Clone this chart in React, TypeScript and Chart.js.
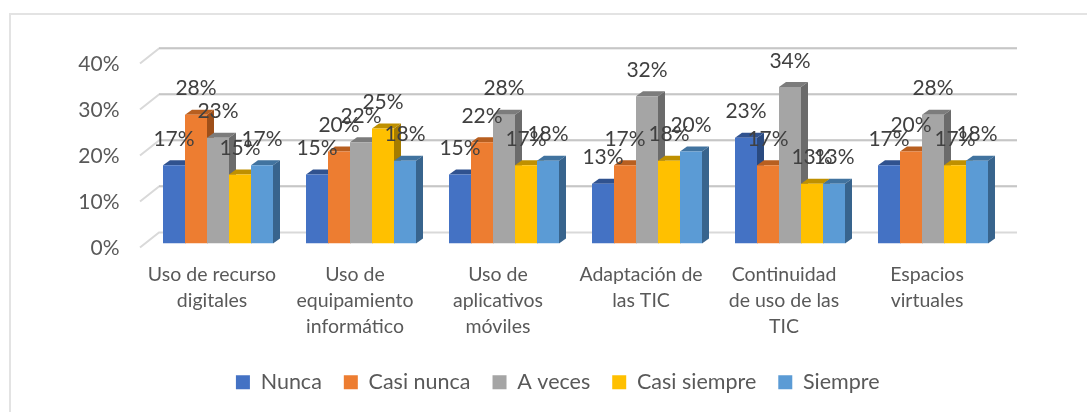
import React, { useEffect, useRef } from "react";
import { Chart, registerables } from "chart.js";

Chart.register(...registerables);

const categories = [
  ["Uso de recurso", "digitales"],
  ["Uso de", "equipamiento", "informático"],
  ["Uso de", "aplicativos", "móviles"],
  ["Adaptación de", "las TIC"],
  ["Continuidad", "de uso de las", "TIC"],
  ["Espacios", "virtuales"],
];
const nunca = [17, 15, 15, 13, 23, 17];
const casiNunca = [28, 20, 22, 17, 17, 20];
const aVeces = [23, 22, 28, 32, 34, 28];
const casiSiempre = [15, 25, 17, 18, 13, 17];
const siempre = [17, 18, 18, 20, 13, 18];
const seriesNames = ["Nunca", "Casi nunca", "A veces", "Casi siempre", "Siempre"];
const seriesColors = ["#4472C4", "#ED7D31", "#A5A5A5", "#FFC000", "#5B9BD5"];
const topColors = ["#30528F", "#B85F20", "#7C7C7C", "#BF9000", "#41739F"];
const sideColors = ["#2A4A80", "#9E4F19", "#6B6B6B", "#A57C00", "#38648D"];
const FONT = "Lato";
const DX = 7;
const DY = 5;

const depthPlugin = {
  id: "depth",
  afterLayout(chart: any) {
    const legend = chart.legend;
    legend.left += 55.5;
    legend.right += 55.5;
    legend.top -= 9;
    legend.bottom -= 9;
  },
  beforeDraw(chart: any) {
    const a = chart.chartArea;
    chart.scales.y.getLabelItems(a).forEach((item: any) => {
      item.options.translation[1] += 4.5;
    });
    chart.scales.x.getLabelItems(a).forEach((item: any) => {
      item.options.translation[0] -= 6;
    });
  },
  beforeDatasetsDraw(chart: any) {
    const { ctx, scales } = chart;
    const y = scales.y;
    const a = chart.chartArea;
    ctx.save();
    for (const v of y.ticks.map((t: any) => t.value)) {
      const py = y.getPixelForValue(v);
      ctx.strokeStyle = "#D9D9D9";
      ctx.lineWidth = 2;
      ctx.beginPath();
      ctx.moveTo(a.left - 6.5, py + 4);
      ctx.lineTo(a.left + 12.5, py - 11);
      ctx.lineTo(a.right + 12.5, py - 11);
      ctx.stroke();
      if (v > 0) {
        ctx.strokeStyle = "#B4B4B4";
        ctx.lineWidth = 1;
        ctx.beginPath();
        ctx.moveTo(a.left + 12.5, py - 11.5);
        ctx.lineTo(a.right + 12.5, py - 11.5);
        ctx.stroke();
      }
    }
    ctx.restore();
    ctx.save();
    chart.data.datasets.forEach((_: any, di: number) => {
      chart.getDatasetMeta(di).data.forEach((bar: any) => {
        const half = bar.width / 2;
        const l = bar.x - half;
        const r = bar.x + half;
        ctx.fillStyle = topColors[di];
        ctx.beginPath();
        ctx.moveTo(l, bar.y);
        ctx.lineTo(l + DX, bar.y - DY);
        ctx.lineTo(r + DX, bar.y - DY);
        ctx.lineTo(r, bar.y);
        ctx.closePath();
        ctx.fill();
        ctx.fillStyle = sideColors[di];
        ctx.beginPath();
        ctx.moveTo(r, bar.y);
        ctx.lineTo(r + DX, bar.y - DY);
        ctx.lineTo(r + DX, bar.base - DY);
        ctx.lineTo(r, bar.base);
        ctx.closePath();
        ctx.fill();
      });
    });
    ctx.restore();
  },
  afterDatasetsDraw(chart: any) {
    const { ctx } = chart;
    ctx.save();
    ctx.font = `21px ${FONT}`;
    ctx.fillStyle = "#404040";
    ctx.textAlign = "center";
    ctx.textBaseline = "middle";
    chart.data.datasets.forEach((ds: any, di: number) => {
      chart.getDatasetMeta(di).data.forEach((bar: any, i: number) => {
        ctx.fillText(`${ds.data[i]}%`, bar.x, bar.y - 26);
      });
    });
    ctx.restore();
  },
};

export default function App() {
  const ref = useRef<HTMLCanvasElement>(null);
  useEffect(() => {
    const chart = new Chart(ref.current!, {
      type: "bar",
      data: {
        labels: categories as any,
        datasets: [nunca, casiNunca, aVeces, casiSiempre, siempre].map((data, i) => ({
          label: seriesNames[i],
          data,
          backgroundColor: seriesColors[i],
          categoryPercentage: 110 / 143,
          barPercentage: 1,
        })),
      },
      options: {
        responsive: false,
        animation: false,
        maintainAspectRatio: false,
        layout: { padding: { left: 0, right: 82.5, top: 59.5, bottom: 0 } },
        plugins: {
          tooltip: { enabled: false },
          legend: {
            position: "bottom",
            labels: {
              font: { family: FONT, size: 21.5 },
              color: "#595959",
              boxWidth: 14,
              boxHeight: 14,
              padding: 22,
            },
          },
        },
        scales: {
          x: {
            grid: { display: false },
            border: { display: false },
            afterFit(s: any) {
              s.height = 115;
            },
            ticks: {
              font: { family: FONT, size: 19.5, lineHeight: 1.33 },
              color: "#595959",
              maxRotation: 0,
              autoSkip: false,
              padding: 10,
            },
          },
          y: {
            min: 0,
            max: 40,
            grid: { display: false },
            border: { display: false },
            afterFit(s: any) {
              s.width = 146.5;
            },
            ticks: {
              stepSize: 10,
              callback: (v: any) => `${v}%`,
              font: { family: FONT, size: 21 },
              color: "#595959",
              padding: 19,
            },
          },
        },
      },
      plugins: [depthPlugin],
    } as any);
    return () => chart.destroy();
  }, []);
  return (
    <div style={{ position: "absolute", left: 0, top: 0, width: 1087, height: 412, background: "#fff" }}>
      <div style={{ position: "absolute", left: 9, top: 13, width: 1078, height: 399, borderTop: "2px solid #E3E3E3", borderLeft: "2px solid #E3E3E3", boxSizing: "border-box" }} />
      <canvas ref={ref} width={1087} height={412} style={{ position: "absolute", left: 0, top: 0, width: 1087, height: 412 }} />
    </div>
  );
}
